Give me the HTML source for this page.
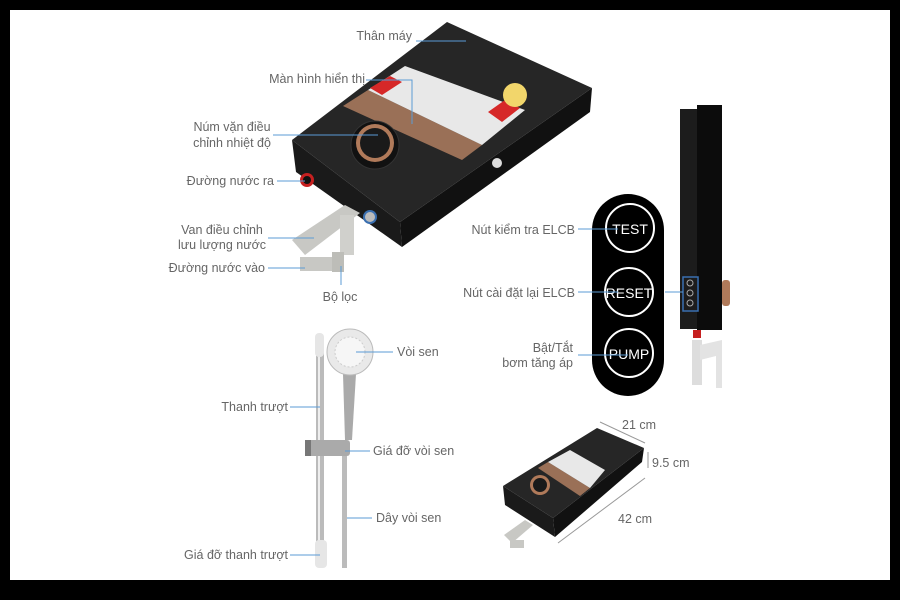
<!DOCTYPE html>
<html><head><meta charset="utf-8"><style>
html,body{margin:0;padding:0;background:#000;}
svg{display:block;}
text{font-family:"Liberation Sans",sans-serif;font-size:12.5px;fill:#666;}
</style></head><body>
<svg width="900" height="600" viewBox="0 0 900 600" xmlns="http://www.w3.org/2000/svg">
<rect x="0" y="0" width="900" height="600" fill="#000"/>
<rect x="10" y="10" width="880" height="570" fill="#fff"/>

<!-- Main unit -->
<polygon points="292,140 400,222 402,247 296,172" fill="#1a1a1a"/>
<polygon points="400,222 592,88 590,112 402,247" fill="#111"/>
<polygon points="292,140 447,22 592,88 400,222" fill="#262626"/>
<polygon points="343,106 368,90 482,145 462,160" fill="#9a7057"/>
<polygon points="368,90 405,66 525,110 482,145" fill="#e8e8e8"/>
<polygon points="370,88 390,76 402,82 382,95" fill="#d62828"/>
<polygon points="488,112 505,100 520,108 502,122" fill="#d62828"/>
<circle cx="515" cy="95" r="12" fill="#f2d66b"/>
<circle cx="375" cy="145" r="24" fill="#111" stroke="#333" stroke-width="1"/>
<circle cx="375" cy="143" r="19" fill="#b07a5a"/>
<circle cx="375" cy="143" r="15" fill="#1a1a1a"/>
<circle cx="307" cy="180" r="7" fill="#c62020"/><circle cx="307" cy="180" r="4" fill="#111"/>
<circle cx="370" cy="217" r="7" fill="#3a6fb0"/><circle cx="370" cy="217" r="5" fill="#bbb"/>
<circle cx="497" cy="163" r="5" fill="#ddd"/>
<!-- valve -->
<polygon points="292,240 345,205 360,213 305,255" fill="#c8c8c4"/>
<rect x="340" y="215" width="14" height="40" fill="#d0d0cc"/>
<rect x="300" y="257" width="40" height="14" fill="#c8c8c4"/>
<rect x="332" y="252" width="12" height="20" fill="#bdbdb8"/>

<!-- Labels main -->
<text x="412" y="40" text-anchor="end">Thân máy</text>
<line x1="416" y1="41" x2="466" y2="41" stroke="#5b9bd5"/>
<text x="365" y="83" text-anchor="end">Màn hình hiển thị</text>
<polyline points="366,80 412,80 412,124" fill="none" stroke="#5b9bd5"/>
<text x="232" y="131" text-anchor="middle">Núm vặn điều</text>
<text x="232" y="147" text-anchor="middle">chỉnh nhiệt độ</text>
<line x1="273" y1="135" x2="378" y2="135" stroke="#5b9bd5"/>
<text x="274" y="185" text-anchor="end">Đường nước ra</text>
<line x1="277" y1="181" x2="305" y2="181" stroke="#5b9bd5"/>
<text x="222" y="234" text-anchor="middle">Van điều chỉnh</text>
<text x="222" y="249" text-anchor="middle">lưu lượng nước</text>
<line x1="268" y1="238" x2="314" y2="238" stroke="#5b9bd5"/>
<text x="265" y="272" text-anchor="end">Đường nước vào</text>
<line x1="268" y1="268" x2="305" y2="268" stroke="#5b9bd5"/>
<text x="340" y="301" text-anchor="middle">Bộ lọc</text>
<line x1="341" y1="266" x2="341" y2="285" stroke="#5b9bd5"/>

<!-- Button panel -->
<rect x="592" y="194" width="72" height="202" rx="36" fill="#000"/>
<circle cx="630" cy="228" r="24" fill="none" stroke="#fff" stroke-width="2"/>
<circle cx="629" cy="292" r="24" fill="none" stroke="#fff" stroke-width="2"/>
<circle cx="629" cy="353" r="24" fill="none" stroke="#fff" stroke-width="2"/>
<text x="630" y="234" text-anchor="middle" style="fill:#fff;font-size:14px">TEST</text>
<text x="629" y="298" text-anchor="middle" style="fill:#fff;font-size:14px">RESET</text>
<text x="629" y="359" text-anchor="middle" style="fill:#fff;font-size:14px">PUMP</text>
<text x="575" y="234" text-anchor="end">Nút kiểm tra ELCB</text>
<line x1="578" y1="229" x2="618" y2="229" stroke="#5b9bd5"/>
<text x="575" y="297" text-anchor="end">Nút cài đặt lại ELCB</text>
<line x1="578" y1="292" x2="618" y2="292" stroke="#5b9bd5"/>
<text x="573" y="352" text-anchor="end">Bật/Tắt</text>
<text x="573" y="367" text-anchor="end">bơm tăng áp</text>
<line x1="578" y1="355" x2="628" y2="355" stroke="#5b9bd5"/>

<!-- Side view -->
<rect x="680" y="109" width="18" height="220" fill="#1c1c1c"/>
<rect x="697" y="105" width="25" height="225" fill="#0c0c0c"/>
<rect x="722" y="280" width="8" height="26" rx="3" fill="#b07a5a"/>
<rect x="683" y="277" width="15" height="34" fill="none" stroke="#3a6fb0" stroke-width="1.5"/>
<circle cx="690" cy="283" r="3" fill="none" stroke="#aaa"/><circle cx="690" cy="293" r="3" fill="none" stroke="#aaa"/><circle cx="690" cy="303" r="3" fill="none" stroke="#aaa"/>
<line x1="665" y1="292" x2="683" y2="292" stroke="#5b9bd5"/>
<rect x="693" y="330" width="8" height="8" fill="#c62020"/>
<rect x="692" y="340" width="10" height="45" fill="#ddd"/>
<polygon points="700,345 722,340 722,388 716,388 716,356 700,360" fill="#e3e3e3"/>

<!-- Shower -->
<rect x="316" y="340" width="8" height="215" fill="#bbb"/>
<rect x="318" y="340" width="2" height="215" fill="#eee"/>
<rect x="315" y="333" width="9" height="24" rx="4" fill="#e6e6e6"/>
<rect x="315" y="540" width="12" height="28" rx="4" fill="#e6e6e6"/>
<rect x="305" y="440" width="45" height="16" rx="3" fill="#aaa"/>
<rect x="305" y="440" width="6" height="16" fill="#777"/>
<rect x="342" y="456" width="5" height="112" fill="#bbb"/>
<polygon points="343,374 356,374 352,440 345,440" fill="#aaa"/>
<circle cx="350" cy="352" r="23" fill="#e9e9e9" stroke="#bbb"/>
<circle cx="350" cy="352" r="15" fill="#f6f6f6" stroke="#ccc" stroke-dasharray="2,2"/>
<text x="397" y="356">Vòi sen</text>
<line x1="356" y1="352" x2="393" y2="352" stroke="#5b9bd5"/>
<text x="288" y="411" text-anchor="end">Thanh trượt</text>
<line x1="290" y1="407" x2="320" y2="407" stroke="#5b9bd5"/>
<text x="373" y="455">Giá đỡ vòi sen</text>
<line x1="345" y1="451" x2="370" y2="451" stroke="#5b9bd5"/>
<text x="376" y="522">Dây vòi sen</text>
<line x1="347" y1="518" x2="372" y2="518" stroke="#5b9bd5"/>
<text x="288" y="559" text-anchor="end">Giá đỡ thanh trượt</text>
<line x1="290" y1="555" x2="320" y2="555" stroke="#5b9bd5"/>

<!-- Small unit -->
<polygon points="503,486 553,518 555,537 505,505" fill="#1a1a1a"/>
<polygon points="553,518 644,448 642,462 555,537" fill="#111"/>
<polygon points="503,486 597,428 644,448 553,518" fill="#262626"/>
<polygon points="538,468 548,462 590,488 580,496" fill="#9a7057"/>
<polygon points="548,462 570,450 605,470 590,488" fill="#e8e8e8"/>
<circle cx="540" cy="485" r="10" fill="#b07a5a"/><circle cx="540" cy="485" r="7" fill="#1a1a1a"/>
<polygon points="504,535 525,520 533,525 512,543" fill="#c8c8c4"/>
<rect x="510" y="540" width="14" height="8" fill="#c8c8c4"/>
<line x1="600" y1="422" x2="645" y2="443" stroke="#999"/>
<text x="622" y="429">21 cm</text>
<line x1="648" y1="452" x2="648" y2="468" stroke="#999"/>
<text x="652" y="467">9.5 cm</text>
<line x1="558" y1="543" x2="645" y2="478" stroke="#999"/>
<text x="618" y="523">42 cm</text>
</svg>
</body></html>
